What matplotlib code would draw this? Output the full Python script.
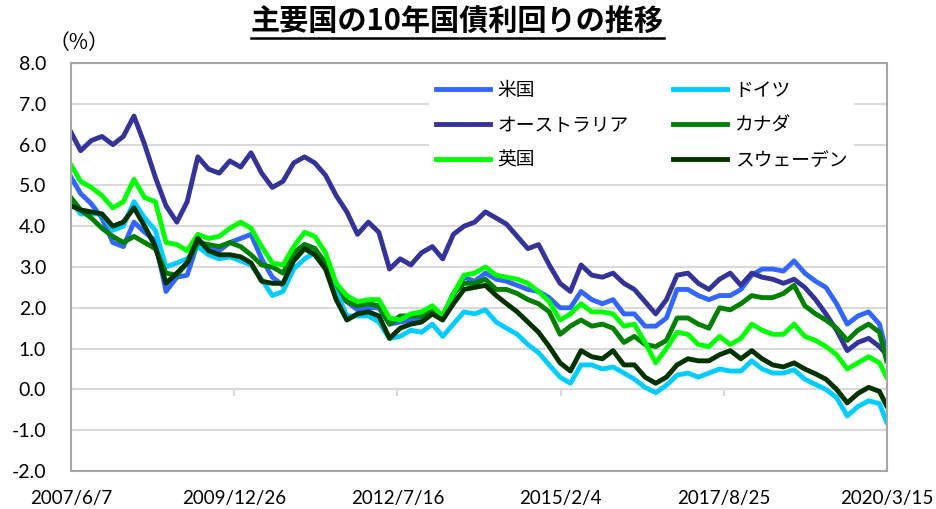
import matplotlib
matplotlib.use("Agg")
import matplotlib.pyplot as plt
from matplotlib.lines import Line2D
import pandas as pd

plt.rcParams['font.family'] = ['Noto Sans CJK JP', 'DejaVu Sans']

# sampling dates of the values (start, every 2 months, end)
dates = pd.to_datetime(['2007-06-07'] + [d.strftime('%Y-%m-%d') for d in
                        pd.date_range('2007-08-01', '2020-02-01', freq='2MS')] + ['2020-03-13'])

us = [5.2, 4.8, 4.55, 4.2, 3.6, 3.5, 4.1, 3.85, 3.65, 2.4,
      2.75, 2.8, 3.6, 3.5, 3.4, 3.6, 3.7, 3.8, 3.2, 2.75,
      2.55, 3.25, 3.55, 3.45, 3.05, 2.35, 2.15, 1.95, 2.0, 2.0,
      1.6, 1.65, 1.7, 1.7, 1.95, 1.75, 2.3, 2.75, 2.65, 2.85,
      2.7, 2.65, 2.55, 2.45, 2.4, 2.25, 2.0, 2.0, 2.4, 2.2,
      2.1, 2.2, 1.85, 1.85, 1.55, 1.55, 1.75, 2.45, 2.45, 2.3,
      2.2, 2.3, 2.3, 2.45, 2.8, 2.95, 2.95, 2.9, 3.15, 2.85,
      2.65, 2.5, 2.1, 1.6, 1.8, 1.9, 1.6, 0.9]
de = [4.6, 4.3, 4.3, 4.3, 3.9, 4.0, 4.6, 4.2, 3.9, 3.0,
      3.1, 3.2, 3.5, 3.3, 3.2, 3.25, 3.15, 3.05, 2.7, 2.3,
      2.4, 2.95, 3.2, 3.35, 3.0, 2.4, 1.8, 1.8, 1.8, 1.65,
      1.25, 1.3, 1.45, 1.4, 1.6, 1.3, 1.6, 1.9, 1.85, 1.95,
      1.65, 1.5, 1.35, 1.1, 0.9, 0.6, 0.3, 0.15, 0.6, 0.6,
      0.5, 0.55, 0.4, 0.25, 0.05, -0.08, 0.1, 0.35, 0.4, 0.3,
      0.4, 0.5, 0.45, 0.45, 0.7, 0.5, 0.4, 0.4, 0.48, 0.25,
      0.12, 0.0, -0.2, -0.65, -0.42, -0.28, -0.35, -0.8]
au = [6.3, 5.85, 6.1, 6.2, 6.0, 6.2, 6.7, 6.0, 5.2, 4.5,
      4.1, 4.6, 5.7, 5.4, 5.3, 5.6, 5.45, 5.8, 5.3, 4.95,
      5.1, 5.55, 5.7, 5.55, 5.25, 4.75, 4.35, 3.8, 4.1, 3.85,
      2.95, 3.2, 3.05, 3.35, 3.5, 3.2, 3.8, 4.0, 4.1, 4.35,
      4.2, 4.05, 3.75, 3.45, 3.55, 3.05, 2.6, 2.4, 3.05, 2.8,
      2.75, 2.85, 2.6, 2.45, 2.15, 1.85, 2.2, 2.8, 2.85, 2.6,
      2.45, 2.7, 2.85, 2.55, 2.85, 2.75, 2.7, 2.6, 2.7, 2.5,
      2.2, 1.85, 1.45, 0.95, 1.15, 1.25, 1.05, 0.85]
ca = [4.7, 4.4, 4.2, 3.95, 3.75, 3.6, 3.75, 3.6, 3.45, 2.85,
      2.8, 3.1, 3.6, 3.55, 3.5, 3.6, 3.5, 3.3, 3.05, 3.0,
      2.85, 3.35, 3.55, 3.45, 3.1, 2.6, 2.15, 2.05, 2.1, 2.05,
      1.6, 1.8, 1.8, 1.8, 1.95, 1.8, 2.35, 2.6, 2.6, 2.7,
      2.45, 2.45, 2.35, 2.2, 2.1, 1.9, 1.35, 1.55, 1.7, 1.55,
      1.6, 1.5, 1.15, 1.3, 1.1, 1.05, 1.2, 1.75, 1.75, 1.6,
      1.5, 2.0, 1.95, 2.1, 2.3, 2.25, 2.25, 2.35, 2.55, 2.05,
      1.85, 1.7, 1.5, 1.2, 1.45, 1.6, 1.4, 0.7]
uk = [5.5, 5.1, 4.95, 4.75, 4.45, 4.6, 5.15, 4.7, 4.6, 3.6,
      3.55, 3.4, 3.8, 3.7, 3.75, 3.95, 4.1, 3.95, 3.5, 3.1,
      3.05, 3.5, 3.85, 3.75, 3.35, 2.6, 2.3, 2.15, 2.2, 2.2,
      1.75, 1.7, 1.85, 1.9, 2.05, 1.8, 2.35, 2.8, 2.85, 3.0,
      2.8, 2.75, 2.7, 2.6, 2.4, 2.15, 1.7, 1.85, 2.1, 1.9,
      1.9, 1.85, 1.55, 1.6, 1.15, 0.65, 1.0, 1.4, 1.35, 1.1,
      1.05, 1.3, 1.1, 1.25, 1.6, 1.45, 1.35, 1.35, 1.6, 1.3,
      1.2, 1.05, 0.85, 0.5, 0.65, 0.8, 0.65, 0.3]
se = [4.5, 4.4, 4.35, 4.3, 4.0, 4.1, 4.45, 4.0, 3.5, 2.6,
      2.85, 3.1, 3.7, 3.4, 3.3, 3.3, 3.25, 3.1, 2.65, 2.6,
      2.6, 3.15, 3.45, 3.3, 2.95, 2.2, 1.7, 1.85, 1.9, 1.8,
      1.25, 1.5, 1.6, 1.65, 1.85, 1.7, 2.1, 2.45, 2.5, 2.55,
      2.3, 2.1, 1.9, 1.65, 1.4, 1.05, 0.65, 0.45, 0.95, 0.8,
      0.75, 0.95, 0.6, 0.6, 0.3, 0.15, 0.3, 0.6, 0.75, 0.7,
      0.7, 0.85, 0.95, 0.75, 0.95, 0.75, 0.6, 0.55, 0.65, 0.5,
      0.38, 0.25, 0.0, -0.33, -0.1, 0.05, -0.05, -0.4]

names = ['米国', 'ドイツ', 'オーストラリア', 'カナダ', '英国', 'スウェーデン']
colors = ['#3366FF', '#00CCFF', '#333399', '#008000', '#00FF00', '#003300']
tick_dates = ['2007-06-07', '2009-12-26', '2012-07-16', '2015-02-04', '2017-08-25', '2020-03-15']
tick_labels = ['2007/6/7', '2009/12/26', '2012/7/16', '2015/2/4', '2017/8/25', '2020/3/15']

fig = plt.figure(figsize=(9.37, 5.09), dpi=100)
ax = fig.add_axes([0.0758, 0.0747, 0.8708, 0.8015])

lines = []
for vals, name, c in zip([us, de, au, ca, uk, se], names, colors):
    ln, = ax.plot(dates, vals, color=c, lw=3.5, label=name, solid_joinstyle='round')
    lines.append(ln)

ax.set_ylim(-2, 8)
ax.set_yticks(range(-2, 9))
ax.set_yticklabels(['%.1f' % v for v in range(-2, 9)], family='Lato', fontsize=14)
ax.grid(axis='y', color='#D9D9D9', lw=1.5)
ax.set_axisbelow(True)
ax.tick_params(axis='y', length=0, pad=18)

tx = pd.to_datetime(tick_dates)
ax.set_xlim(tx[0], tx[-1])
ax.set_xticks(tx)
ax.set_xticklabels(tick_labels, family='Lato', fontsize=13.5)
ax.tick_params(axis='x', length=0, pad=14)

for s in ax.spines.values():
    s.set_color('#A6A6A6')
    s.set_linewidth(1.5)

# horizontal axis line at 0 with its tick marks
zax = ax.secondary_xaxis(0, transform=ax.transData)
zax.set_xticks(tx[1:-1])
zax.set_xticklabels([])
zax.tick_params(length=5, width=1.5, color='#D9D9D9')
zax.spines['bottom'].set_color('#D9D9D9')
zax.spines['bottom'].set_linewidth(1.5)

order = [0, 2, 4, 1, 3, 5]
leg = ax.legend([lines[i] for i in order], [names[i] for i in order], ncol=2,
                loc='upper left', bbox_to_anchor=(0.439, 0.975), frameon=True,
                facecolor='white', edgecolor='none', framealpha=1, fancybox=False,
                fontsize=13.5, handlelength=2.9, handletextpad=0.4,
                columnspacing=2.35, labelspacing=0.75, borderpad=0.35,
                borderaxespad=0)

ttl = fig.text(0.488, 0.957, '主要国の10年国債利回りの推移', ha='center', va='center',
               fontsize=21, fontweight='bold')
fig.text(0.052, 0.915, '（%）', ha='left', va='center', fontsize=15)

fig.canvas.draw()
bb = ttl.get_window_extent().transformed(fig.transFigure.inverted())
fig.add_artist(Line2D([bb.x0, bb.x1], [bb.y0 - 0.003, bb.y0 - 0.003], color='black', lw=1.8))

fig.savefig('out.png', dpi=100)
